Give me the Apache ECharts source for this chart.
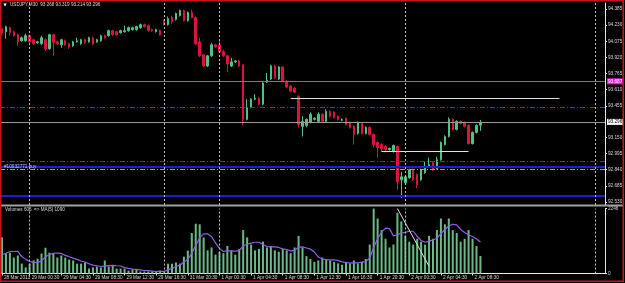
<!DOCTYPE html>
<html>
<head>
<meta charset="utf-8">
<style>
html, body { margin: 0; padding: 0; background: #000; }
#chart { width: 625px; height: 283px; }
</style>
<script src="https://cdn.jsdelivr.net/npm/echarts@6/dist/echarts.min.js"></script>
</head>
<body>
<div id="chart"></div>
<script>
// USDJPY,M30 - one row per bar: [open, close, low, high]
const bars = [
	[94.196,94.158,94.138,94.206],[94.167,94.216,94.099,94.225],[94.206,94.158,94.129,94.216],[94.167,94.129,94.119,94.177],
	[94.138,94.070,94.032,94.148],[94.080,94.109,94.070,94.119],[94.080,94.129,94.070,94.148],[94.129,94.070,94.061,94.138],
	[94.090,94.051,94.041,94.099],[94.061,94.070,94.051,94.080],[94.051,94.109,94.041,94.129],[94.090,94.003,93.983,94.099],
	[94.003,94.138,93.993,94.148],[94.138,94.061,93.935,94.148],[94.070,94.051,94.041,94.080],[94.041,94.090,94.012,94.099],
	[94.080,94.041,94.032,94.090],[94.051,94.022,94.003,94.061],[94.032,94.070,94.022,94.080],[94.070,94.080,94.061,94.109],
	[94.051,94.090,94.041,94.099],[94.090,94.061,94.051,94.099],[94.070,94.109,94.061,94.119],[94.109,94.051,94.041,94.119],
	[94.070,94.090,94.061,94.099],[94.080,94.129,94.070,94.138],[94.129,94.109,94.099,94.138],[94.129,94.177,94.119,94.187],
	[94.177,94.138,94.129,94.187],[94.167,94.138,94.129,94.177],[94.158,94.177,94.148,94.187],[94.167,94.177,94.158,94.225],
	[94.177,94.206,94.167,94.216],[94.187,94.206,94.177,94.216],[94.187,94.216,94.177,94.225],[94.206,94.235,94.196,94.245],
	[94.235,94.216,94.206,94.245],[94.225,94.177,94.167,94.235],[94.187,94.177,94.167,94.196],[94.167,94.187,94.158,94.196],
	[94.177,94.138,94.129,94.187],[94.264,94.235,94.225,94.284],[94.235,94.293,94.225,94.313],[94.303,94.264,94.245,94.322],
	[94.284,94.342,94.274,94.351],[94.322,94.371,94.313,94.380],[94.371,94.274,94.264,94.380],[94.274,94.351,94.264,94.361],
	[94.351,94.303,94.293,94.380],[94.303,94.051,94.041,94.313],[94.070,93.935,93.925,94.109],[93.944,93.838,93.828,93.954],
	[93.838,93.935,93.828,93.944],[93.935,94.041,93.925,94.061],[94.041,94.022,94.012,94.051],[94.041,93.974,93.964,94.080],
	[93.974,93.935,93.925,93.993],[93.935,93.857,93.780,93.944],[93.838,93.877,93.828,93.915],[93.877,93.886,93.867,93.896],
	[93.886,93.838,93.828,93.896],[93.848,93.324,93.266,93.850],[93.324,93.441,93.315,93.518],[93.441,93.518,93.431,93.528],
	[93.518,93.528,93.509,93.567],[93.528,93.470,93.460,93.538],[93.470,93.673,93.460,93.683],[93.683,93.702,93.673,93.770],
	[93.712,93.838,93.702,93.848],[93.838,93.722,93.712,93.848],[93.712,93.828,93.702,93.838],[93.828,93.693,93.683,93.838],
	[93.693,93.634,93.625,93.702],[93.644,93.596,93.586,93.654],[93.625,93.586,93.576,93.634],[93.547,93.276,93.247,93.557],
	[93.257,93.305,93.160,93.354],[93.266,93.324,93.247,93.334],[93.295,93.373,93.286,93.392],[93.324,93.334,93.315,93.344],
	[93.305,93.373,93.295,93.392],[93.373,93.305,93.295,93.383],[93.305,93.402,93.295,93.421],[93.402,93.354,93.344,93.412],
	[93.392,93.344,93.334,93.402],[93.354,93.324,93.315,93.363],[93.315,93.324,93.305,93.334],[93.334,93.276,93.266,93.344],
	[93.295,93.247,93.237,93.305],[93.257,93.179,93.082,93.266],[93.189,93.295,93.179,93.305],[93.286,93.189,93.179,93.295],
	[93.189,93.247,93.179,93.257],[93.247,93.179,93.170,93.257],[93.179,93.082,93.053,93.189],[93.102,93.053,92.956,93.111],
	[93.082,93.044,93.015,93.092],[93.063,93.034,93.005,93.073],[93.034,93.044,93.024,93.053],[93.015,93.073,93.005,93.082],
	[93.063,92.724,92.646,93.073],[92.743,92.772,92.569,92.821],[92.714,92.772,92.705,92.782],[92.763,92.840,92.753,92.850],
	[92.840,92.743,92.734,92.850],[92.792,92.695,92.666,92.801],[92.743,92.840,92.734,92.850],[92.811,92.869,92.801,92.918],
	[92.869,92.889,92.860,92.956],[92.908,92.840,92.830,92.918],[92.850,92.937,92.840,92.966],[92.937,93.102,92.927,93.111],
	[93.082,93.160,93.073,93.170],[93.160,93.324,93.150,93.344],[93.324,93.228,93.218,93.334],[93.228,93.305,93.218,93.315],
	[93.305,93.286,93.276,93.315],[93.295,93.257,93.247,93.305],[93.266,93.092,93.082,93.276],[93.092,93.199,93.082,93.208],
	[93.199,93.266,93.189,93.276],[93.268,93.296,93.214,93.319]
];

const volumes = [
	1250, 690, 720, 550, 620, 340, 210, 340, 450, 510, 690, 890, 720, 690, 550, 620, 550, 480, 450, 340,
	340, 380, 170, 210, 240, 210, 450, 240, 270, 170, 170, 170, 100, 140, 140, 70, 70, 70, 70, 70,
	100, 40, 340, 340, 380, 340, 580, 790, 1400, 1720, 1700, 1240, 800, 900, 650, 750, 700, 950, 800, 650,
	850, 1500, 1250, 1000, 800, 850, 1100, 900, 950, 800, 750, 850, 800, 700, 900, 1300, 900, 600, 500, 400,
	450, 550, 500, 450, 400, 350, 300, 400, 350, 450, 350, 400, 500, 1000, 2246, 1900, 1500, 1200, 900, 1000,
	2100, 1800, 1300, 1100, 1000, 1200, 1100, 1000, 1300, 1200, 1500, 1900, 1700, 1900, 1500, 1400, 1100, 1200, 1500, 1200,
	950, 605
];
// volumes of the 4 bars before the window (off screen), estimated from where the MA line starts
const volumesBefore = [390, 420, 550, 590];

const priceTicks = [92.530, 92.685, 92.840, 92.995, 93.150, 93.455, 93.610, 93.765, 93.920, 94.075, 94.230, 94.385];
const volumeTicks = [0, 2246];
const timeTickIndex = [0, 7, 15, 23, 31, 39, 47, 55, 63, 71, 79, 87, 95, 103, 111, 119];
const timeTickText = ['28 Mar 2013', '29 Mar 00:30', '29 Mar 04:30', '29 Mar 08:30', '29 Mar 12:30', '29 Mar 16:30',
	'31 Mar 20:30', '1 Apr 00:30', '1 Apr 04:30', '1 Apr 08:30', '1 Apr 12:30', '1 Apr 16:30', '1 Apr 20:30',
	'2 Apr 00:30', '2 Apr 04:30', '2 Apr 08:30'];
const daySeparators = [7, 41, 55, 102, 150];
const slotCount = 153; // bars + empty shift space on the right

// price levels drawn across the chart
const magentaLevel = 93.687;
const bidLevel = 93.296;
const redLevels = [93.440, 92.924];
const blueLevels = [92.871, 92.594];
const greyLevel = 92.836;
const orderText = '#10032771 buy';
const shortLines = [[73, 141, 93.527], [96, 118, 93.020]];

const font = 'Liberation Sans';
const textColor = '#d8d8d8';

const slots = [];
for ( let i = 0; i < slotCount; i++ ) {
	slots.push( String( i ) );
}

// MA(5) of the volumes
const allVolumes = volumesBefore.concat( volumes );
const volumeMa = volumes.map( ( v, i ) => {
	const part = allVolumes.slice( i, i + 5 );
	return Math.round( part.reduce( ( a, b ) => a + b, 0 ) / part.length );
} );

const isTimeTick = idx => timeTickIndex.indexOf( idx ) >= 0;

const separatorLines = daySeparators.map( i => ( { xAxis: i } ) );
const dotted = { color: '#c0c0c0', width: 1, type: [2, 2] };
const dashDot = [5, 2, 1, 2];

const priceLines = [
	{ yAxis: magentaLevel, lineStyle: { color: '#d838d8', width: 1, type: 'solid' },
		label: { show: true, position: 'end', distance: 2, formatter: magentaLevel.toFixed( 3 ), backgroundColor: '#e81ee8', color: '#fff', padding: [1, 1, 0, 1] } },
	{ yAxis: bidLevel, lineStyle: { color: '#9a9a9a', width: 1, type: 'solid' },
		label: { show: true, position: 'end', distance: 2, formatter: bidLevel.toFixed( 3 ), backgroundColor: '#ffffff', color: '#000', padding: [1, 1, 0, 1] } },
	{ yAxis: redLevels[0], lineStyle: { color: '#c81818', width: 1, type: dashDot } },
	{ yAxis: redLevels[1], lineStyle: { color: '#c81818', width: 1, type: dashDot } },
	{ yAxis: blueLevels[0], lineStyle: { color: '#1c1cd0', width: 2, type: 'solid' },
		label: { show: true, position: 'insideStart', distance: 4, formatter: orderText, color: '#c8c8ff' } },
	{ yAxis: greyLevel, lineStyle: { color: '#90a890', width: 1, type: dashDot } },
	{ yAxis: blueLevels[1], lineStyle: { color: '#1c1cd0', width: 2, type: 'solid' } }
];
shortLines.forEach( s => {
	priceLines.push( [
		{ coord: [s[0], s[2]], lineStyle: { color: '#e0e0e0', width: 1, type: 'solid' } },
		{ coord: [s[1], s[2]] }
	] );
} );
separatorLines.forEach( l => priceLines.push( Object.assign( { lineStyle: dotted }, l ) ) );

const volumeLines = separatorLines.map( l => Object.assign( { lineStyle: dotted }, l ) );
volumeLines.push( [
	{ coord: [100, 2246], lineStyle: { color: '#e0e0e0', width: 1, type: 'solid' } },
	{ coord: [108, 250] }
] );

const chart = echarts.init( document.getElementById( 'chart' ) );
chart.setOption( {
	animation: false,
	backgroundColor: '#000',
	textStyle: { fontFamily: font },
	grid: [
		{ left: 0, right: 20, top: 3, height: 202, outerBoundsMode: 'none' },
		{ left: 0, right: 20, top: 208.5, height: 65, outerBoundsMode: 'none' }
	],
	xAxis: [
		{
			type: 'category', gridIndex: 0, data: slots,
			axisLine: { show: false }, axisTick: { show: false }, axisLabel: { show: false }, splitLine: { show: false }
		},
		{
			type: 'category', gridIndex: 1, data: slots,
			axisLine: { show: true, lineStyle: { color: '#e8e8e8', width: 1 } },
			axisTick: { show: true, alignWithLabel: true, length: 2, interval: isTimeTick, lineStyle: { color: '#e8e8e8' } },
			axisLabel: {
				show: true, interval: isTimeTick, hideOverlap: false, showMinLabel: true,
				align: 'left', margin: 2, padding: [0, 0, 0, 2],
				fontSize: 4.7, fontFamily: font, color: textColor,
				formatter: v => {
					const k = timeTickIndex.indexOf( Number( v ) );
					return k >= 0 ? timeTickText[k] : '';
				}
			},
			splitLine: { show: false }
		}
	],
	yAxis: [
		{
			type: 'value', gridIndex: 0, position: 'right', min: 92.501, max: 94.443, scale: true,
			axisLine: { show: true, lineStyle: { color: '#e8e8e8', width: 1 } },
			axisTick: { show: true, length: 2, customValues: priceTicks, lineStyle: { color: '#e8e8e8' } },
			axisLabel: { show: true, margin: 3, customValues: priceTicks, fontSize: 4.7, fontFamily: font, color: textColor, formatter: v => v.toFixed( 3 ) },
			splitLine: { show: false }
		},
		{
			type: 'value', gridIndex: 1, position: 'right', min: 0, max: 2246,
			axisLine: { show: true, lineStyle: { color: '#e8e8e8', width: 1 } },
			axisTick: { show: true, length: 2, customValues: volumeTicks, lineStyle: { color: '#e8e8e8' } },
			axisLabel: { show: true, margin: 3, customValues: volumeTicks, fontSize: 4.7, fontFamily: font, color: textColor, formatter: v => String( v ) },
			splitLine: { show: false }
		}
	],
	series: [
		{
			name: 'USDJPY,M30', type: 'candlestick', xAxisIndex: 0, yAxisIndex: 0,
			data: bars, barWidth: 2,
			itemStyle: { color: '#4fc086', color0: '#dc143c', borderColor: '#4fc086', borderColor0: '#dc143c', borderWidth: 1 },
			markLine: {
				silent: true, symbol: ['none', 'none'], animation: false,
				label: { show: false, fontSize: 4.7, fontFamily: font },
				data: priceLines
			}
		},
		{
			name: 'Volumes', type: 'bar', xAxisIndex: 1, yAxisIndex: 1,
			data: volumes, barWidth: 2,
			itemStyle: { color: '#6ab987' },
			markLine: {
				silent: true, symbol: ['none', 'none'], animation: false,
				label: { show: false },
				data: volumeLines
			}
		},
		{
			name: 'MA(5)', type: 'line', xAxisIndex: 1, yAxisIndex: 1,
			data: volumeMa, symbol: 'none', smooth: false,
			lineStyle: { color: '#9060e0', width: 1.2 }
		}
	],
	graphic: [
		{ type: 'rect', z: 10, shape: { x: 0, y: 204.5, width: 623, height: 2 }, style: { fill: '#a0a0a0' } },
		{ type: 'text', z: 10, x: 3.5, y: 5, style: { text: '▼', fill: '#ffffff', fontSize: 4, fontFamily: 'DejaVu Sans', verticalAlign: 'middle' } },
		{ type: 'text', z: 10, x: 10, y: 5, style: { text: 'USDJPY,M30  93.268 93.319 93.214 93.296', fill: textColor, fontSize: 4.6, fontFamily: font, verticalAlign: 'middle' } },
		{ type: 'text', z: 10, x: 5, y: 209.5, style: { text: 'Volumes 605  => MA(5) 1090', fill: textColor, fontSize: 4.6, fontFamily: font, verticalAlign: 'middle' } },
		{ type: 'rect', z: 100, shape: { x: 0.75, y: 0.75, width: 622.5, height: 280.5 }, style: { fill: null, stroke: '#c81414', lineWidth: 1.5 } }
	]
} );
</script>
</body>
</html>
